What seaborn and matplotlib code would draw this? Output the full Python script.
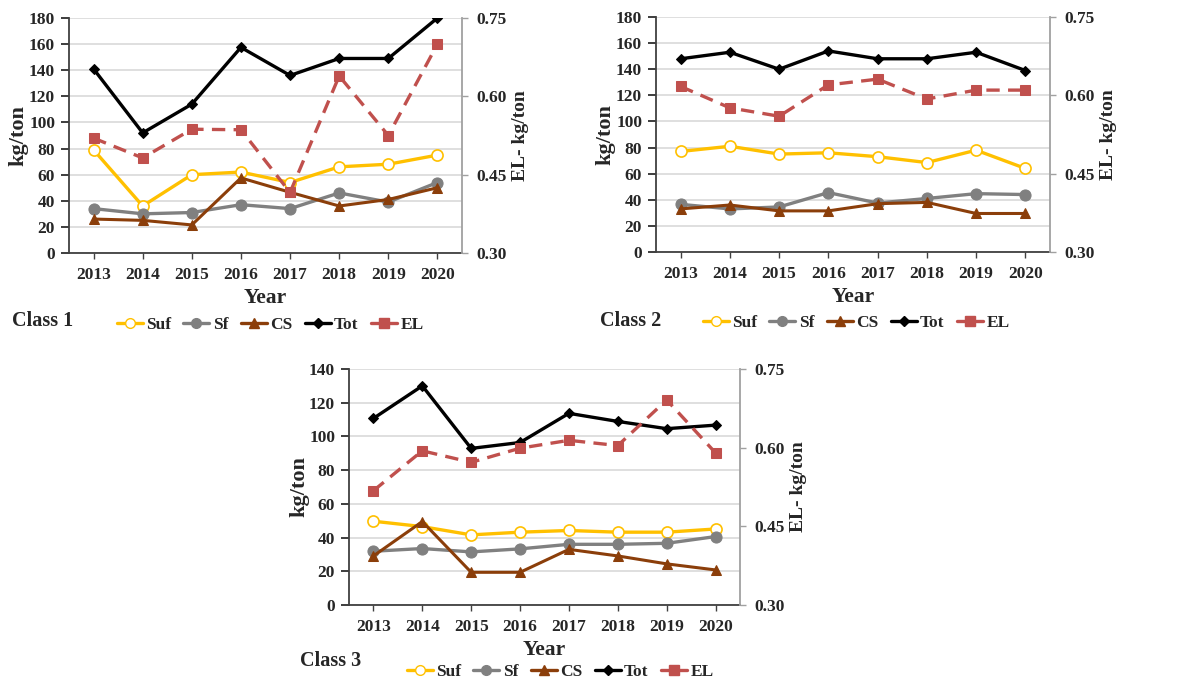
import matplotlib
matplotlib.use("Agg")
import matplotlib.pyplot as plt
import seaborn as sns
import pandas as pd
import numpy as np
from matplotlib.lines import Line2D

sns.set_theme(style="white")
plt.rcParams['font.family'] = ['Liberation Serif', 'DejaVu Serif']
plt.rcParams['font.weight'] = 'bold'

years = [2013, 2014, 2015, 2016, 2017, 2018, 2019, 2020]

c1_suf = [79, 36, 60, 62, 54, 66, 68, 75]
c1_sf = [34, 30, 31, 37, 34, 46, 39, 54]
c1_cs = [26, 25, 21.5, 57.5, 46.5, 36, 41, 50]
c1_tot = [141, 92, 114, 157.5, 136, 149, 149, 180]
c1_el = [0.520, 0.482, 0.537, 0.536, 0.416, 0.639, 0.525, 0.700]

c2_suf = [77, 81, 75, 76, 73, 68.5, 78, 64]
c2_sf = [36.5, 33, 34.5, 45.5, 37.5, 41, 44.7, 44]
c2_cs = [33, 36, 31.5, 31.5, 37, 38, 29.5, 29.5]
c2_tot = [148, 153, 140, 154, 148, 148, 153, 139]
c2_el = [0.617, 0.576, 0.560, 0.620, 0.631, 0.593, 0.610, 0.610]

c3_suf = [49.7, 46.5, 41.6, 43.2, 44.2, 43.2, 43.2, 45.1]
c3_sf = [31.9, 33.5, 31.5, 33.3, 36, 36, 36.6, 40.6]
c3_cs = [29.1, 49.5, 19.4, 19.4, 33, 29.1, 24.4, 20.8]
c3_tot = [110.7, 130, 92.9, 96.4, 113.7, 108.9, 104.6, 106.7]
c3_el = [0.518, 0.594, 0.572, 0.599, 0.614, 0.604, 0.691, 0.590]

class_names = ["Class 1", "Class 2", "Class 3"]
left_max = [180, 180, 140]
left_step = [20, 20, 20]
right_ticks = [0.30, 0.45, 0.60, 0.75]

COL_SUF = "#FFC000"
COL_SF = "#808080"
COL_CS = "#8B3E0A"
COL_TOT = "#000000"
COL_EL = "#C0504D"

fig = plt.figure(figsize=(11.77, 6.85), dpi=100)
W, H = 1177, 685

def rect(l, t, r, b):
    return [l / W, 1 - b / H, (r - l) / W, (b - t) / H]

rects = [rect(69, 18, 462, 253), rect(656, 17, 1050, 252), rect(349, 369, 740, 605)]
class_pos = [(12, 321), (600, 321), (300, 661)]
legend_xy = [(270, 325), (856, 323), (560, 672)]

data = [
    (c1_suf, c1_sf, c1_cs, c1_tot, c1_el),
    (c2_suf, c2_sf, c2_cs, c2_tot, c2_el),
    (c3_suf, c3_sf, c3_cs, c3_tot, c3_el),
]

TICK_FS = 12.5

for i, (suf, sf, cs, tot, el) in enumerate(data):
    ax = fig.add_axes(rects[i])
    df = pd.DataFrame({"Year": years, "Suf": suf, "Sf": sf, "CS": cs, "Tot": tot, "EL": el})
    sns.lineplot(data=df, x="Year", y="Suf", ax=ax, color=COL_SUF, lw=2.4, marker="o",
                 markersize=8, markerfacecolor="white", markeredgecolor=COL_SUF, markeredgewidth=1.2, zorder=3)
    sns.lineplot(data=df, x="Year", y="Sf", ax=ax, color=COL_SF, lw=2.4, marker="o",
                 markersize=8, markeredgecolor=COL_SF, zorder=3)
    sns.lineplot(data=df, x="Year", y="CS", ax=ax, color=COL_CS, lw=2.2, marker="^",
                 markersize=7.5, markeredgecolor=COL_CS, zorder=3)
    sns.lineplot(data=df, x="Year", y="Tot", ax=ax, color=COL_TOT, lw=2.4, marker="D",
                 markersize=5, markeredgecolor=COL_TOT, zorder=3)
    ax.set_xlim(2012.5, 2020.5)
    ax.set_ylim(0, left_max[i])
    ax.set_yticks(np.arange(0, left_max[i] + 1, left_step[i]))
    ax.set_xticks(years)
    ax.set_xticklabels([str(y) for y in years])
    ax.yaxis.grid(True, color="#D9D9D9", lw=1.2)
    ax.set_axisbelow(True)
    ax.spines["top"].set_visible(False)
    ax.spines["left"].set_color("#404040")
    ax.spines["bottom"].set_color("#404040")
    ax.spines["left"].set_linewidth(1.3)
    ax.spines["bottom"].set_linewidth(1.3)
    ax.spines["right"].set_visible(False)
    ax.tick_params(axis="x", bottom=True, length=4, width=1, color="#404040", labelsize=TICK_FS, pad=6)
    ax.tick_params(axis="y", left=False, labelsize=TICK_FS, pad=4)
    for lab in ax.get_xticklabels() + ax.get_yticklabels():
        lab.set_fontweight("bold")
    ax.set_xlabel("Year", fontsize=15.5, fontweight="bold", labelpad=4)
    ax.set_ylabel("kg/ton", fontsize=16, fontweight="bold", labelpad=0)

    ax2 = ax.twinx()
    sns.lineplot(data=df, x="Year", y="EL", ax=ax2, color=COL_EL, lw=2.4, ls=(0, (4, 2.5)),
                 marker="s", markersize=7.5, markeredgecolor=COL_EL, zorder=3)
    ax2.set_ylim(0.30, 0.75)
    ax2.set_yticks(right_ticks)
    ax2.set_yticklabels([f"{v:.2f}" for v in right_ticks])
    ax2.set_xlim(2012.5, 2020.5)
    ax2.spines["top"].set_visible(False)
    ax2.spines["left"].set_visible(False)
    ax2.spines["bottom"].set_visible(False)
    ax2.spines["right"].set_color("#A0A0A0")
    ax2.spines["right"].set_linewidth(1.3)
    ax2.tick_params(axis="y", right=True, length=4, width=1, color="#A0A0A0", labelsize=TICK_FS, pad=6)
    for lab in ax2.get_yticklabels():
        lab.set_fontweight("bold")
    ax2.set_ylabel("EL- kg/ton", fontsize=14, fontweight="bold", labelpad=4)
    ax2.grid(False)

    handles = [
        Line2D([], [], color=COL_SUF, lw=2.4, marker="o", markersize=7, markerfacecolor="white",
               markeredgecolor=COL_SUF),
        Line2D([], [], color=COL_SF, lw=2.4, marker="o", markersize=7),
        Line2D([], [], color=COL_CS, lw=2.4, marker="^", markersize=7),
        Line2D([], [], color=COL_TOT, lw=2.4, marker="D", markersize=5),
        Line2D([], [], color=COL_EL, lw=2.4, marker="s", markersize=7),
    ]
    lx, ly = legend_xy[i]
    fig.legend(handles, ["Suf", "Sf", "CS", "Tot", "EL"], ncol=5, frameon=False,
               loc="center", bbox_to_anchor=(lx / W, 1 - ly / H),
               handlelength=1.5, handletextpad=0.2, columnspacing=0.7,
               prop={"weight": "bold", "size": 12.5})
    cx, cy = class_pos[i]
    fig.text(cx / W, 1 - cy / H, class_names[i], fontsize=14.5, fontweight="bold",
             ha="left", va="center")

fig.savefig("out.png", dpi=100)
